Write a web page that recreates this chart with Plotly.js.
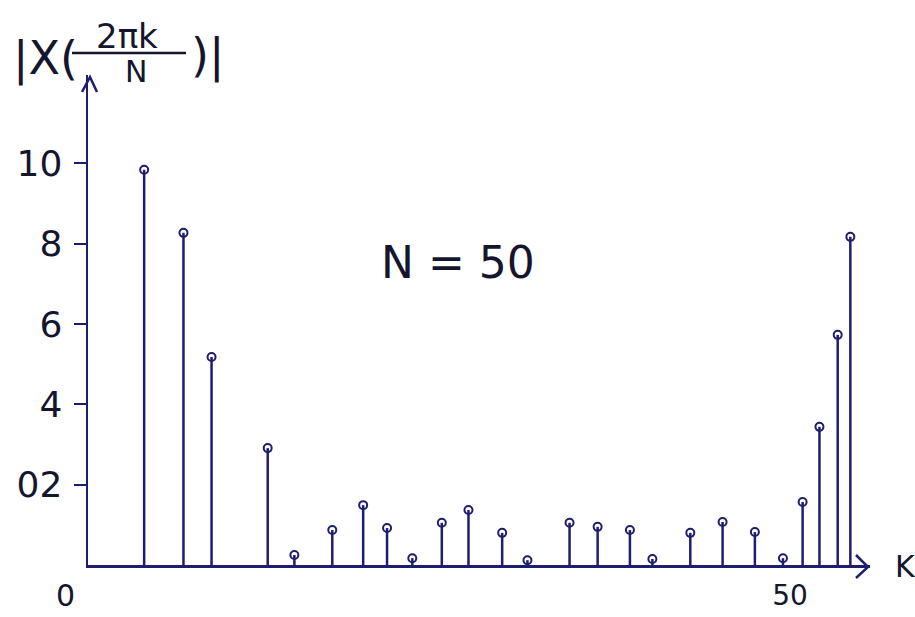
<!DOCTYPE html>
<html>
<head>
<meta charset="utf-8">
<script src="https://cdn.plot.ly/plotly-3.0.1.min.js"></script>
<style>html,body{margin:0;padding:0;background:#fff;}#chart{width:915px;height:617px;}</style>
</head>
<body>
<div id="chart"></div>
<script>
// k positions of the stems (as drawn) and |X(2πk/N)| magnitudes
const kValues = [4.0, 6.8, 8.8, 12.8, 14.7, 17.4, 19.6, 21.3, 23.1, 25.2, 27.1, 29.5, 31.3, 34.3, 36.3, 38.6, 40.2, 42.9, 45.2, 47.5, 49.5, 50.9, 52.1, 53.4, 54.3];
const magnitudes = [9.84, 8.27, 5.18, 2.91, 0.25, 0.87, 1.49, 0.92, 0.17, 1.05, 1.37, 0.80, 0.12, 1.05, 0.95, 0.87, 0.15, 0.80, 1.07, 0.82, 0.17, 1.57, 3.44, 5.73, 8.17];
const yTickVals = [2, 4, 6, 8, 10];
const yTickText = ['02', '4', '6', '8', '10'];
const xTickVals = [50];
const xTickText = ['50'];

const ink = '#1e1e6e';
const textInk = '#15152e';

const stemX = [], stemY = [];
kValues.forEach((k, i) => { stemX.push(k, k, null); stemY.push(0, magnitudes[i], null); });

const traces = [
  {type: 'scatter', mode: 'lines', x: stemX, y: stemY, line: {color: ink, width: 2.5}, hoverinfo: 'skip', showlegend: false},
  {type: 'scatter', mode: 'markers', x: kValues, y: magnitudes,
   marker: {symbol: 'circle-open', size: 8, color: ink, line: {color: ink, width: 2}}, showlegend: false}
];

const px = x => (x - 88) / 782;
const py = y => (565 - y) / 490;

const font = 'DejaVu Sans, sans-serif';
const ann = (text, x, y, size, extra) => Object.assign({text: text, x: px(x), y: py(y), xref: 'paper', yref: 'paper',
  showarrow: false, xanchor: 'center', yanchor: 'middle', font: {family: font, size: size, color: textInk}}, extra || {});

const layout = {
  width: 915, height: 617,
  margin: {l: 88, r: 45, t: 75, b: 52},
  paper_bgcolor: '#ffffff', plot_bgcolor: '#ffffff',
  showlegend: false,
  xaxis: {range: [0, 55.7], showline: true, linecolor: ink, linewidth: 2.5, showgrid: false, zeroline: false,
          ticks: '', tickvals: xTickVals, ticktext: xTickText, ticklabelstandoff: 4,
          tickfont: {family: font, size: 28, color: textInk}},
  yaxis: {range: [0, 12.2], showline: true, linecolor: ink, linewidth: 2.5, showgrid: false, zeroline: false,
          ticks: 'outside', ticklen: 12, tickwidth: 2, tickcolor: ink, tickvals: yTickVals, ticktext: yTickText,
          ticklabelstandoff: 4, tickfont: {family: font, size: 36, color: textInk}},
  annotations: [
    ann('0', 65, 595, 30),
    ann('K', 905, 566, 30),
    ann('N = 50', 458, 262, 44),
    ann('|X(', 45, 58, 46),
    ann('2πk', 127, 36, 34),
    ann('N', 136, 72, 30),
    ann(')|', 207, 56, 46)
  ],
  shapes: [
    {type: 'path', xref: 'paper', yref: 'paper', path: `M ${px(856)} ${py(555)} L ${px(868)} ${py(567)} L ${px(856)} ${py(578)}`, line: {color: ink, width: 2.5}},
    {type: 'path', xref: 'paper', yref: 'paper', path: `M ${px(82)} ${py(92)} L ${px(90)} ${py(77)} L ${px(97)} ${py(92)}`, line: {color: ink, width: 2.5}},
    {type: 'line', xref: 'paper', yref: 'paper', x0: px(72), x1: px(186), y0: py(53), y1: py(53), line: {color: textInk, width: 2.5}}
  ]
};

Plotly.newPlot('chart', traces, layout, {displayModeBar: false, staticPlot: true});
</script>
</body>
</html>
